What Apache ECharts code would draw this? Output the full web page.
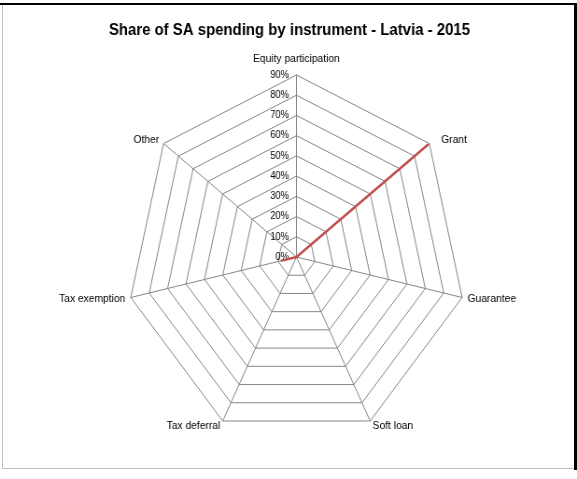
<!DOCTYPE html>
<html>
<head>
<meta charset="utf-8">
<script src="https://cdn.jsdelivr.net/npm/echarts@6/dist/echarts.min.js"></script>
<style>
  html, body { margin: 0; padding: 0; background: #fff; overflow: hidden; }
  #chart { position: absolute; left: 0; top: 0; width: 618px; height: 479px;
           transform: scaleX(0.9337); transform-origin: 0 0; }
  .fr { position: absolute; }
</style>
</head>
<body>
<div id="chart"></div>
<!-- chart frame -->
<div class="fr" style="left:2px;top:5px;width:571px;height:463px;border:1px solid #bfbfbf;border-top:none;"></div>
<div class="fr" style="left:0;top:3px;width:577px;height:2px;background:#000;"></div>
<div class="fr" style="left:574px;top:3px;width:3px;height:467px;background:#000;"></div>
<script>
// Instruments, clockwise from the top
const instruments = ['Equity participation', 'Grant', 'Guarantee', 'Soft loan',
                     'Tax deferral', 'Tax exemption', 'Other'];
// Share of State aid spending (%), Latvia 2015
const shares = [0, 89, 0, 0, 0, 8, 0];
const axisMax = 90;
const axisStep = 10;

// ECharts lays radar indicators out counter-clockwise, so reverse after the first
const order = [0].concat(instruments.map((_, i) => i).slice(1).reverse());

const cx = 317.5, cy = 257, rad = 182;
const font = "'Liberation Sans', Arial, sans-serif";

const chart = echarts.init(document.getElementById('chart'), null, { renderer: 'canvas' });
chart.setOption({
  animation: false,
  backgroundColor: '#fff',
  title: {
    text: 'Share of SA spending by instrument - Latvia - 2015',
    left: 305, top: 18, textAlign: 'center',
    textStyle: { fontFamily: font, fontWeight: 'bold', fontSize: 16, color: '#000' }
  },
  radar: {
    center: [cx, cy], radius: rad, startAngle: 90, shape: 'polygon',
    splitNumber: axisMax / axisStep,
    indicator: order.map(i => ({ name: instruments[i], min: 0, max: axisMax })),
    axisName: {
      color: '#000', fontFamily: font, fontSize: 11,
      // extra room above the top axis and beside the Grant vertex
      formatter: n => n === instruments[0] ? '{top|' + n + '}'
                    : n === instruments[1] ? '{side|' + n + '}' : n,
      rich: {
        top: { fontFamily: font, fontSize: 11, color: '#000', padding: [0, 0, 5, 0] },
        side: { fontFamily: font, fontSize: 11, color: '#000', padding: [0, 0, 0, 8] }
      }
    },
    nameGap: 6,
    axisLine: { lineStyle: { color: '#868686', width: 1 } },
    splitLine: { lineStyle: { color: '#868686', width: 1 } },
    splitArea: { show: false },
    axisLabel: { show: false }
  },
  polar: { center: [cx, cy], radius: rad },
  angleAxis: { show: false, startAngle: 90, min: 0, max: 360 },
  radiusAxis: {
    min: 0, max: axisMax, interval: axisStep,
    axisLine: { show: false }, axisTick: { show: false }, splitLine: { show: false },
    axisLabel: { formatter: '{value}%', fontFamily: font, fontSize: 10, color: '#000', margin: 8 }
  },
  series: [{
    type: 'radar',
    symbol: 'none',
    lineStyle: { color: '#C0504D', width: 2.5 },
    data: [{ value: order.map(i => shares[i]) }]
  }]
});
</script>
</body>
</html>
